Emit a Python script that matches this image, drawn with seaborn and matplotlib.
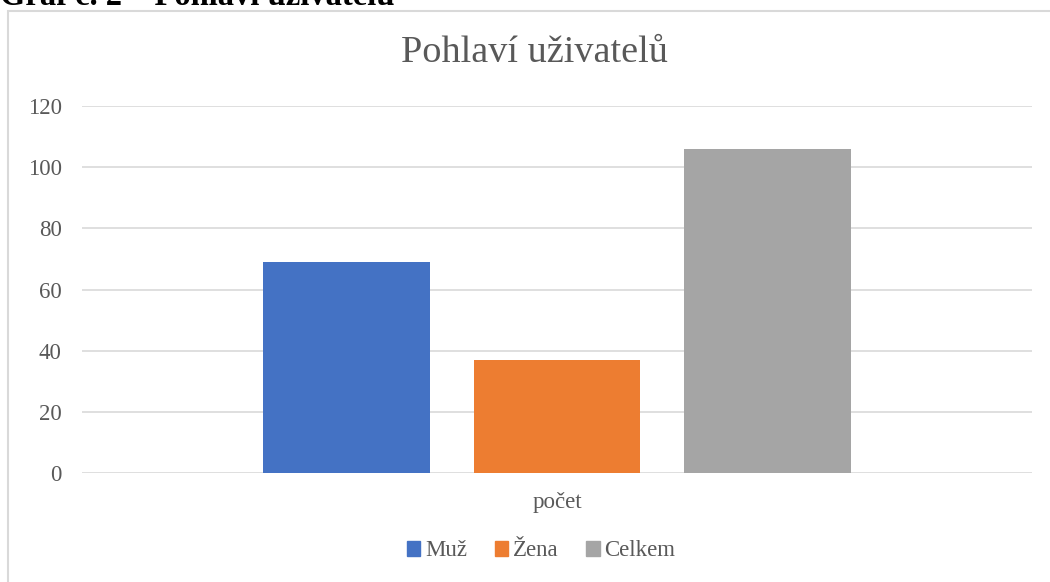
import matplotlib
matplotlib.use("Agg")
import matplotlib.pyplot as plt
import matplotlib.patches as mpatches
import pandas as pd
import seaborn as sns

# Data
kategorie = ["Muž", "Žena", "Celkem"]
hodnoty = [69, 37, 106]
osa_x = ["počet", "počet", "počet"]
barvy = ["#4472C4", "#ED7D31", "#A5A5A5"]

df = pd.DataFrame({"osa": osa_x, "pohlavi": kategorie, "pocet": hodnoty})

sns.set_style("white")
plt.rcParams["font.family"] = ["Liberation Serif", "DejaVu Serif"]

fig = plt.figure(figsize=(10.5, 5.82), dpi=100)
ax = fig.add_axes([82 / 1050, 1 - 473 / 582, 950 / 1050, 367 / 582])

sns.barplot(data=df, x="osa", y="pocet", hue="pohlavi", hue_order=kategorie,
            palette=barvy, width=0.665, gap=0.21, legend=False, ax=ax,
            saturation=1, linewidth=0)

ax.set_ylim(0, 120)
ax.set_xlim(-0.5, 0.5)
ax.set_yticks(range(0, 121, 20))
ax.yaxis.grid(True, color="#D9D9D9", linewidth=1.2)
ax.set_axisbelow(True)
for s in ax.spines.values():
    s.set_visible(False)
ax.tick_params(axis="y", length=0, labelsize=16.5, colors="#595959", pad=14.5)
ax.tick_params(axis="x", length=0, labelsize=16.5, colors="#595959", pad=14)
ax.set_xlabel("")
ax.set_ylabel("")

# nadpis grafu
fig.text(534 / 1050, 1 - 62 / 582, "Pohlaví uživatelů", ha="center", va="baseline",
         fontsize=27.5, color="#595959")

# legenda
handles = [mpatches.Patch(color=c, label=k) for c, k in zip(barvy, kategorie)]
leg = fig.legend(handles=handles, loc="center", bbox_to_anchor=(541 / 1050, 1 - 551 / 582),
                 ncol=3, frameon=False, fontsize=16.5, handlelength=0.6, handleheight=0.6,
                 handletextpad=0.2, columnspacing=1.2, labelcolor="#595959")

# rámeček grafu
fig.patches.append(mpatches.Rectangle((8 / 1050, -0.1), 1.2, 1 - 11 / 582 + 0.1,
                                      transform=fig.transFigure, fill=False,
                                      edgecolor="#D9D9D9", linewidth=1.5))

# popisek nad grafem (oříznutý)
fig.text(0.0, 1 - 5 / 582, "Graf č. 2 – Pohlaví uživatelů", ha="left", va="baseline",
         fontsize=23.5, fontweight="bold", color="black")

fig.savefig("out.png", dpi=100)
